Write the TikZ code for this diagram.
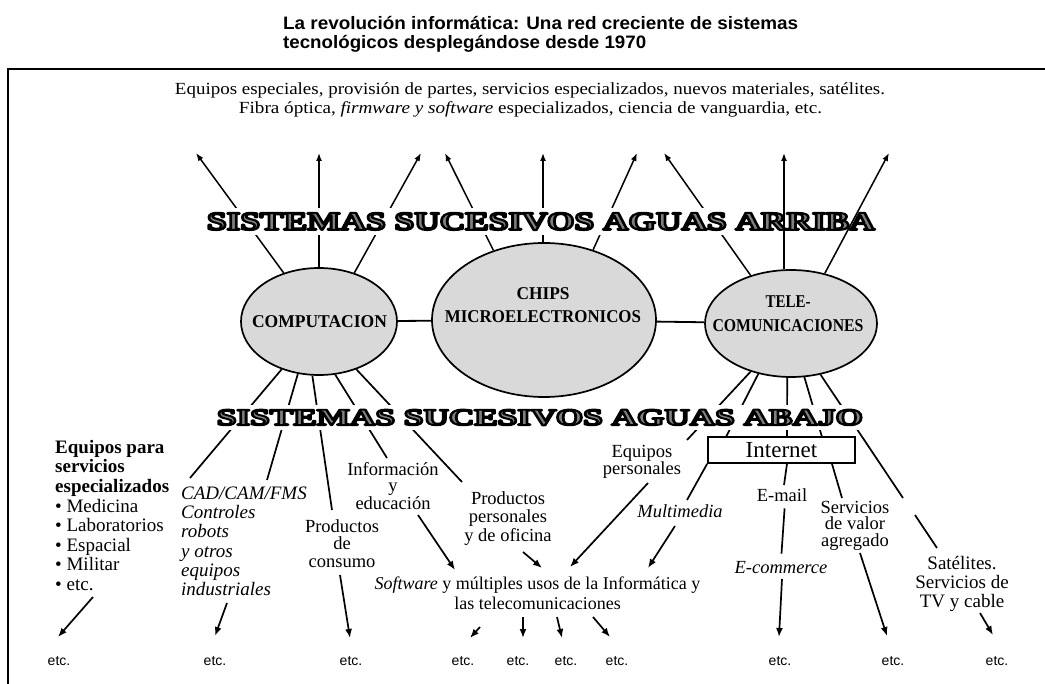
\documentclass[tikz,border=0pt]{standalone}
\usepackage{fontspec}
\usepackage{graphicx}
\setmainfont{Liberation Serif}
\newfontfamily\sansfam{Liberation Sans}
\usetikzlibrary{arrows.meta,shapes.geometric}

\definecolor{ellfill}{gray}{0.85}
\definecolor{bangray}{gray}{0.5}

% grey letters stroked with a black rim (fill+stroke text render mode)
\newcommand\outlinedtext[1]{%
  \textcolor{bangray}{\special{pdf:code 2 Tr 1.9 w 0 G 1 j}#1\special{pdf:code 0 Tr}}}

% stretch or squeeze a line of text to a given width
\newcommand\fitto[2]{\resizebox{#1}{\height}{#2}}

\newcommand\lblsize{\fontsize{18.5}{19.5}\selectfont}

\tikzset{
  titlef/.style={font=\sansfam\bfseries\fontsize{18}{20}\selectfont, inner sep=0pt},
  toptext/.style={font=\fontsize{17}{19}\selectfont, inner sep=0pt},
  ell/.style={ellipse, draw, line width=1.7pt, fill=ellfill, inner sep=0pt},
  elltext/.style={font=\bfseries\fontsize{18}{23}\selectfont, inner sep=0pt},
  link/.style={line width=1.8pt},
  upline/.style={line width=1.5pt, -{Latex[length=8pt,width=6pt]}},
  dnline/.style={line width=1.7pt},
  dnarrow/.style={line width=1.7pt, -{Latex[length=9pt,width=7pt]}},
  banner/.style={fill=white, inner xsep=3pt, inner ysep=5pt, font=\bfseries\fontsize{24}{26}\selectfont},
  lbl/.style={font=\lblsize, inner sep=0pt},
  etcl/.style={font=\sansfam\fontsize{14}{16}\selectfont, inner sep=0pt, anchor=base},
  netbox/.style={draw, line width=1.8pt, minimum width=147pt, minimum height=26pt, inner sep=0pt, font=\fontsize{23}{25}\selectfont},
}

\begin{document}
\begin{tikzpicture}[x=1pt,y=-1pt]
\useasboundingbox (0,0) rectangle (1045,684);

% heading
\node[titlef, anchor=base west] (title1) at (283,29.5)
  {\fitto{515pt}{La revolución informática: Una red creciente de sistemas}};
\node[titlef, anchor=base west] (title2) at (283,49)
  {\fitto{363pt}{tecnológicos desplegándose desde 1970}};

% frame (its right and bottom sides lie beyond the page)
\draw[line width=1.4pt] (8,690) -- (8,69) -- (1050,69);

% upstream supplies
\node[toptext, anchor=base] (up1) at (530,95)
  {\fitto{710pt}{Equipos especiales, provisión de partes, servicios especializados, nuevos materiales, satélites.}};
\node[toptext, anchor=base] (up2) at (530.5,114)
  {\fitto{583pt}{Fibra óptica, \textit{firmware y software} especializados, ciencia de vanguardia, etc.}};

% the three core systems
\node[ell, minimum width=156pt, minimum height=107pt] (comp) at (319,321.5) {};
\node[ell, minimum width=224pt, minimum height=154pt] (chips) at (544,320) {};
\node[ell, minimum width=172pt, minimum height=107pt] (tele) at (791,323.5) {};
\node[elltext] (compT) at (319.5,322) {\fitto{135pt}{COMPUTACION}};
\node[elltext, align=center] (chipsT) at (543,305.5) {\fitto{53pt}{CHIPS}\\\fitto{196pt}{MICROELECTRONICOS}};
\node[elltext, align=center, font=\bfseries\fontsize{18}{24}\selectfont] (teleT) at (788,313.5)
  {\fitto{45pt}{TELE-}\\\fitto{151pt}{COMUNICACIONES}};
\draw[link] (comp) -- (chips);
\draw[link] (chips) -- (tele);

% tips of the upstream arrows
\coordinate (tA1) at (196,153);
\coordinate (tA2) at (319,153);
\coordinate (tA3) at (421,153);
\coordinate (tB1) at (445,153);
\coordinate (tB2) at (543,153);
\coordinate (tB3) at (637,153);
\coordinate (tC1) at (664,153);
\coordinate (tC2) at (784,153);
\coordinate (tC3) at (889,153);

\draw[upline] (comp.126.6) -- (tA1);
\draw[upline] (tA2 |- comp.north) -- (tA2);
\draw[upline] (comp.54.2) -- (tA3);
\draw[upline] (chips.126.6) -- (tB1);
\draw[upline] (tB2 |- chips.north) -- (tB2);
\draw[upline] (chips.55.4) -- (tB3);
\draw[upline] (tele.130.4) -- (tC1);

% downstream lines
\coordinate (dA1) at (190,478);
\coordinate (dA2) at (267,480);
\coordinate (dA3) at (332,510);
\coordinate (dA4) at (387,458);
\coordinate (dA5) at (462,482);
\draw[dnline] (comp.232.3) -- (dA1);
\draw[dnline] (comp.248.2) -- (dA2);
\draw[dnline] (comp.263.6) -- (dA3);
\draw[dnline] (comp.287) -- (dA4);
\draw[dnline] (comp.308.8) -- (dA5);

\coordinate (dC1) at (687,440);
\coordinate (dC2) at (726,437);
\coordinate (dC3) at (787,437);
\coordinate (dC4) at (822,437);
\coordinate (dC5a) at (903,498);
\coordinate (dC5b) at (915,515);
\coordinate (dC5c) at (937,548);
\draw[dnline] (tele.230.4) -- (dC1);
\draw[dnline] (tele.237.4) -- (dC2);
\draw[dnline] (tele.266.8) -- (dC3);
\draw[dnline] (tele.284.7) -- (dC4);
\draw[dnline] (tele.300.9) -- (dC5a);
\draw[dnline] (dC5b) -- (dC5c);

% banners
\node[banner] (arriba) at (541,221.5)
  {\resizebox{668pt}{17pt}{\outlinedtext{SISTEMAS SUCESIVOS AGUAS ARRIBA}}};
\node[banner] (abajo) at (540,417.5)
  {\resizebox{646pt}{15.5pt}{\outlinedtext{SISTEMAS SUCESIVOS AGUAS ABAJO}}};

% these two cross the upper banner
\draw[upline] (tC2 |- tele.north) -- (tC2);
\draw[upline] (tele.56.6) -- (tC3);

% downstream labels
\node[lbl, anchor=north west, align=left, font=\fontsize{19}{19.6}\selectfont] (espec) at (55,440)
  {\textbf{Equipos para}\\\textbf{servicios}\\\textbf{especializados}\\• Medicina\\• Laboratorios\\• Espacial\\• Militar\\• etc.};
\node[lbl, anchor=north west, align=left, font=\fontsize{19}{19.1}\selectfont\itshape] (cad) at (181,487)
  {CAD/CAM/FMS\\Controles\\robots\\y otros\\equipos\\industriales};
\node[lbl, anchor=north, align=center, font=\fontsize{18.5}{17.8}\selectfont] (consumo) at (342,519)
  {Productos\\de\\consumo};
\node[lbl, anchor=north, align=center, font=\fontsize{18.5}{16.5}\selectfont] (info) at (393,462)
  {Información\\y\\educación};
\node[lbl, anchor=north, align=center, font=\fontsize{18.5}{18.5}\selectfont] (oficina) at (508,491)
  {Productos\\personales\\y de oficina};
\node[lbl, anchor=north, align=center, font=\fontsize{18.5}{17}\selectfont] (eqpers) at (642,445)
  {Equipos\\personales};
\node[lbl, anchor=base, font=\lblsize\itshape] (multi) at (680,518) {Multimedia};
\node[lbl, anchor=north, align=center, font=\fontsize{18}{20}\selectfont] (soft) at (537.5,577)
  {\textit{Software} y múltiples usos de la Informática y\\las telecomunicaciones};
\node[netbox] (inet) at (781.5,450) {Internet};
\node[lbl, anchor=base] (email) at (782,502) {E-mail};
\node[lbl, anchor=base, font=\lblsize\itshape] (ecom) at (781,573) {E-commerce};
\node[lbl, anchor=north, align=center, font=\fontsize{18.5}{16.5}\selectfont] (valor) at (855,501)
  {Servicios\\de valor\\agregado};
\node[lbl, anchor=north, align=center, font=\fontsize{19}{19}\selectfont] (sat) at (962,556)
  {Satélites.\\Servicios de\\TV y cable};

% links among the labels
\coordinate (iM) at (687,500);
\coordinate (iE) at (784,485);
\coordinate (iS) at (842,498);
\draw[dnline] (inet.south west) -- (iM);
\draw[dnline] ([xshift=5.5pt]inet.south) -- (iE);
\draw[dnline] ([xshift=50.5pt]inet.south) -- (iS);
\draw[dnline, shorten <=6pt, shorten >=7pt] ([xshift=3pt]email.south) -- (ecom.north);

\coordinate (sA) at (418,515);  \coordinate (sAt) at (455,570);
\coordinate (sB) at (523,552);  \coordinate (sBt) at (542,568);
\coordinate (sC) at (648,483);  \coordinate (sCt) at (570,567);
\coordinate (sD) at (675,526);  \coordinate (sDt) at (648,568);
\draw[dnarrow] (sA) -- (sAt);
\draw[dnarrow] (sB) -- (sBt);
\draw[dnarrow] (sC) -- (sCt);
\draw[dnarrow] (sD) -- (sDt);

% etc. at the foot
\node[etcl] (e1) at (59,665) {etc.};
\node[etcl] (e2) at (215,665) {etc.};
\node[etcl] (e3) at (351,665) {etc.};
\node[etcl] (e4) at (463,665) {etc.};
\node[etcl] (e5) at (518,665) {etc.};
\node[etcl] (e6) at (566,665) {etc.};
\node[etcl] (e7) at (617,665) {etc.};
\node[etcl] (e8) at (780,665) {etc.};
\node[etcl] (e9) at (893,665) {etc.};
\node[etcl] (e10) at (997,665) {etc.};

\coordinate (f1) at (93,597);   \coordinate (f1t) at (58,637);
\coordinate (f2) at (227,603);  \coordinate (f2t) at (215,636);
\coordinate (f3) at (340,575);  \coordinate (f3t) at (350,638);
\coordinate (f4) at (480,627);  \coordinate (f4t) at (470,638);
\coordinate (f5) at (523,617);  \coordinate (f5t) at (523,638);
\coordinate (f6) at (557,617);  \coordinate (f6t) at (562,638);
\coordinate (f7) at (593,617);  \coordinate (f7t) at (610,637);
\coordinate (f8) at (782,579);  \coordinate (f8t) at (779,637);
\coordinate (f9) at (860,553);  \coordinate (f9t) at (887,636);
\coordinate (f10) at (980,613); \coordinate (f10t) at (993,635);
\foreach \i in {1,...,10} {\draw[dnarrow] (f\i) -- (f\i t);}
\end{tikzpicture}
\end{document}
